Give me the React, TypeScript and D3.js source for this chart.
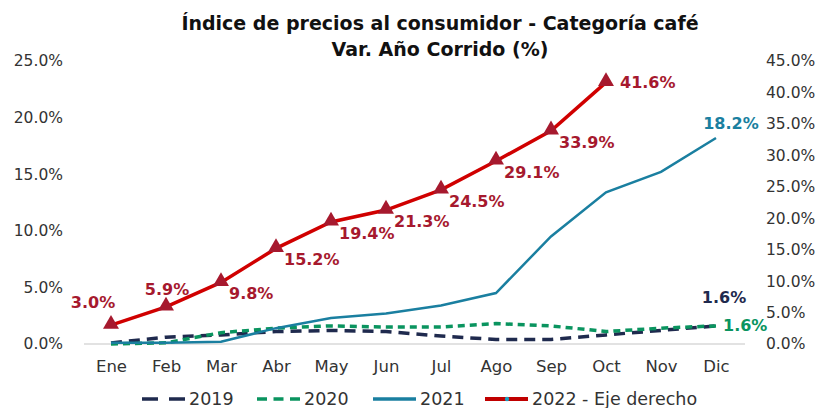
import React, { useEffect, useRef } from "react";
import * as d3 from "d3";

const months = ["Ene", "Feb", "Mar", "Abr", "May", "Jun", "Jul", "Ago", "Sep", "Oct", "Nov", "Dic"];
const s2019 = [0.1, 0.6, 0.8, 1.1, 1.2, 1.1, 0.7, 0.4, 0.4, 0.8, 1.2, 1.6];
const s2020 = [0.0, 0.1, 1.0, 1.4, 1.6, 1.5, 1.5, 1.8, 1.6, 1.1, 1.4, 1.6];
const s2021 = [0.1, 0.1, 0.2, 1.4, 2.3, 2.7, 3.4, 4.5, 9.5, 13.4, 15.2, 18.2];
const s2022 = [3.0, 5.9, 9.8, 15.2, 19.4, 21.3, 24.5, 29.1, 33.9, 41.6];
const leftTicks = [0, 5, 10, 15, 20, 25];
const rightTicks = [0, 5, 10, 15, 20, 25, 30, 35, 40, 45];

const W = 824, H = 408;
const FONT = "DejaVu Sans, sans-serif";

const App = () => {
  const ref = useRef<SVGSVGElement>(null);

  useEffect(() => {
    const svg = d3.select(ref.current);
    svg.selectAll("*").remove();

    const x = d3.scalePoint().domain(months).range([111, 716]);
    const yL = d3.scaleLinear().domain([0, 25]).range([344, 61]);
    const yR = d3.scaleLinear().domain([0, 45]).range([344, 61]);

    // title
    const title = svg.append("text").attr("text-anchor", "middle")
      .attr("font-family", FONT).attr("font-weight", "bold").attr("font-size", 19).attr("fill", "#111");
    title.append("tspan").attr("x", 440).attr("y", 30).text("Índice de precios al consumidor - Categoría café");
    title.append("tspan").attr("x", 440).attr("y", 56).text("Var. Año Corrido (%)");

    // baseline
    svg.append("line").attr("x1", 84).attr("x2", 745).attr("y1", yL(0)).attr("y2", yL(0))
      .attr("stroke", "#d9d9d9").attr("stroke-width", 1.5);

    const pct = (d: any) => d3.format(".1f")(d as number) + "%";

    // left axis
    svg.append("g").attr("transform", "translate(63,0)")
      .call(d3.axisLeft(yL).tickValues(leftTicks).tickFormat(pct).tickSize(0).tickPadding(0))
      .call(g => g.select(".domain").remove())
      .selectAll("text").attr("font-family", FONT).attr("font-size", 15.5).attr("fill", "#333");

    // right axis
    svg.append("g").attr("transform", "translate(766,0)")
      .call(d3.axisRight(yR).tickValues(rightTicks).tickFormat(pct).tickSize(0).tickPadding(0))
      .call(g => g.select(".domain").remove())
      .selectAll("text").attr("font-family", FONT).attr("font-size", 15.5).attr("fill", "#333");

    // months
    svg.append("g").attr("transform", `translate(0,${yL(0)})`)
      .call(d3.axisBottom(x).tickSize(0).tickPadding(16))
      .call(g => g.select(".domain").remove())
      .selectAll("text").attr("font-family", FONT).attr("font-size", 16.5).attr("fill", "#333");

    const lineL = d3.line<number>().x((_, i) => x(months[i])!).y(d => yL(d));
    const lineR = d3.line<number>().x((_, i) => x(months[i])!).y(d => yR(d));

    svg.append("path").datum(s2019).attr("d", lineL).attr("fill", "none")
      .attr("stroke", "#1f2a4e").attr("stroke-width", 3.5).attr("stroke-dasharray", "11,7");
    svg.append("path").datum(s2020).attr("d", lineL).attr("fill", "none")
      .attr("stroke", "#0a945f").attr("stroke-width", 3.5).attr("stroke-dasharray", "7,5");
    svg.append("path").datum(s2021).attr("d", lineL).attr("fill", "none")
      .attr("stroke", "#1a7fa0").attr("stroke-width", 2.5);
    svg.append("path").datum(s2022).attr("d", lineR).attr("fill", "none")
      .attr("stroke", "#d00000").attr("stroke-width", 3.5);

    const tri = d3.symbol().type(d3.symbolTriangle).size(110);
    svg.selectAll(".mk").data(s2022).enter().append("path")
      .attr("transform", (d, i) => `translate(${x(months[i])},${yR(d) - 1})`)
      .attr("d", tri).attr("fill", "#a6192e");

    // 2022 value labels
    const lab = svg.append("g").attr("font-family", FONT).attr("font-weight", "bold").attr("font-size", 16).attr("fill", "#a6192e");
    s2022.forEach((d, i) => {
      const px = x(months[i])!, py = yR(d);
      let dx = 8, dy = 17, anchor = "start";
      if (i === 0) { dx = -18; dy = -17; anchor = "middle"; }
      if (i === 1) { dx = 1; dy = -12; anchor = "middle"; }
      if (i === 9) { dx = 14; dy = 6; }
      lab.append("text").attr("x", px + dx).attr("y", py + dy).attr("text-anchor", anchor).text(pct(d));
    });

    // end labels for the left-axis series
    const last = months.length - 1;
    const endLab = (val: number, fill: string, dx: number, dy: number, anchor: string) =>
      svg.append("text").attr("x", x(months[last])! + dx).attr("y", yL(val) + dy)
        .attr("text-anchor", anchor).attr("font-family", FONT).attr("font-weight", "bold").attr("font-size", 16)
        .attr("fill", fill).text(pct(val));
    endLab(s2021[last], "#1a7fa0", 15, -9, "middle");
    endLab(s2019[last], "#1f2a4e", 8, -23, "middle");
    endLab(s2020[last], "#0a945f", 7, 5, "start");

    // legend
    const legend = [
      { name: "2019", color: "#1f2a4e", dash: "16,11", x: 142 },
      { name: "2020", color: "#0a945f", dash: "10,6.5", x: 257 },
      { name: "2021", color: "#1a7fa0", dash: null, x: 373 },
      { name: "2022 - Eje derecho", color: "#c00000", dash: null, x: 485 },
    ];
    const lg = svg.append("g").attr("transform", "translate(0,399)");
    legend.forEach((l, i) => {
      const ln = lg.append("line").attr("x1", l.x).attr("x2", l.x + 43).attr("y1", 0).attr("y2", 0)
        .attr("stroke", l.color).attr("stroke-width", i === 3 ? 4 : 3.5);
      if (l.dash) ln.attr("stroke-dasharray", l.dash);
      if (i === 3) lg.append("circle").attr("cx", l.x + 22).attr("cy", 0).attr("r", 2.2).attr("fill", "#1a9fc0");
      lg.append("text").attr("x", l.x + 47).attr("y", 6).attr("font-family", FONT).attr("font-size", 17.5)
        .attr("fill", "#333").text(l.name);
    });
  }, []);

  return <svg ref={ref} width={W} height={H} style={{ display: "block", position: "absolute", left: 0, top: 0 }} />;
};

export default App;
